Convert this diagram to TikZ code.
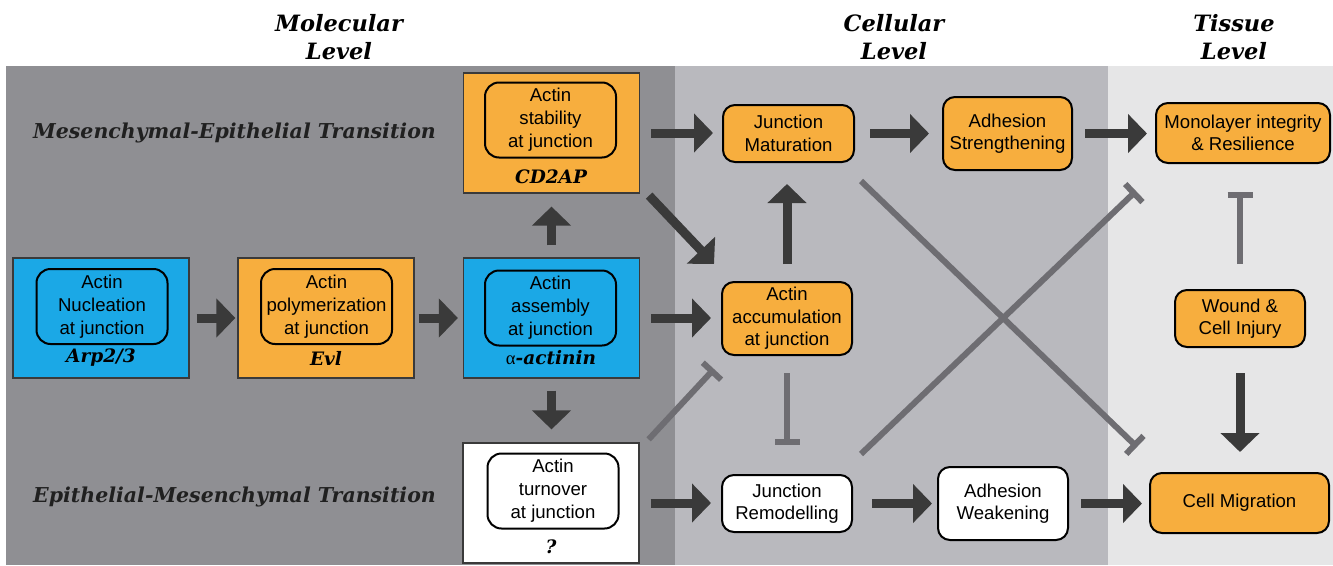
\documentclass[tikz,border=0pt]{standalone}
\usepackage{fontspec}
\setmainfont{Liberation Sans}
\newfontfamily\serifbi{DejaVu Serif}
\newfontfamily\greekf{Liberation Serif}
\usetikzlibrary{arrows.meta,calc}
\definecolor{bluebox}{RGB}{27,168,230}
\definecolor{orangebox}{RGB}{247,174,62}
\definecolor{bgdark}{RGB}{143,143,147}
\definecolor{bgmid}{RGB}{185,185,190}
\definecolor{bglight}{RGB}{230,230,231}
\definecolor{arrowc}{RGB}{58,58,58}
\definecolor{inhc}{RGB}{110,109,114}
\definecolor{rowc}{RGB}{32,32,32}
\tikzset{
  molbox/.style={draw=arrowc, line width=1.2pt, minimum width=176pt, minimum height=120pt, inner sep=0pt},
  inbox/.style={draw=black, line width=2pt, rounded corners=14pt, minimum width=131pt, minimum height=75pt, inner sep=0pt, align=center, font=\fontsize{18.6}{23}\selectfont},
  cellbox/.style={draw=black, line width=2pt, rounded corners=12pt, inner sep=0pt, align=center, font=\fontsize{18.6}{22.5}\selectfont},
  gene/.style={font=\serifbi\bfseries\itshape\fontsize{18.5}{22}\selectfont, inner sep=0pt},
  header/.style={font=\serifbi\bfseries\itshape\fontsize{22.5}{27.5}\selectfont, align=center, inner sep=0pt},
  rowlab/.style={font=\serifbi\bfseries\itshape\fontsize{20.5}{22}\selectfont, text=rowc, anchor=west, inner sep=0pt},
  blk/.style={draw=arrowc, line width=9pt, -{Triangle[width=38pt, length=19pt]}},
  inh/.style={draw=inhc, line width=6pt, -{Bar[width=25pt]}}
}
\begin{document}
\begin{tikzpicture}[x=1pt, y=-1pt]
\useasboundingbox (0,0) rectangle (1333,565);
% backgrounds
\fill[white] (0,0) rectangle (1333,565);
\fill[bgdark] (6,66) rectangle (675,565);
\fill[bgmid] (675,66) rectangle (1108,565);
\fill[bglight] (1108,66) rectangle (1333,565);

% headers
\node[header] (hmol) at (339,37) {Molecular\\Level};
\node[header] (hcel) at (894,37) {Cellular\\Level};
\node[header] (htis) at (1234,37) {Tissue\\Level};

% row labels
\node[rowlab] (rmet) at (33,133) {Mesenchymal-Epithelial Transition};
\node[rowlab] (remt) at (33,497) {Epithelial-Mesenchymal Transition};

% molecular boxes
\node[molbox, fill=bluebox] (arp) at (101,318) {};
\node[inbox] (arpin) at (102,306.5) {Actin\\Nucleation\\at junction};
\node[gene] (arpl) at (101,358) {Arp2/3};

\node[molbox, fill=orangebox] (evl) at (326,318) {};
\node[inbox] (evlin) at (326.5,306.5) {Actin\\polymerization\\at junction};
\node[gene] (evll) at (326,358) {Evl};

\node[molbox, fill=bluebox] (act) at (551.5,318) {};
\node[inbox] (actin) at (550.5,308) {Actin\\assembly\\at junction};
\node[gene] (actl) at (551,358) {{\greekf\mdseries\upshape α}-actinin};

\node[molbox, fill=orangebox] (cd2) at (551.5,133) {};
\node[inbox] (cd2in) at (550.5,120) {Actin\\stability\\at junction};
\node[gene] (cd2l) at (551,177) {CD2AP};

\node[molbox, fill=white] (q) at (551,503) {};
\node[inbox] (qin) at (553,491) {Actin\\turnover\\at junction};
\node[gene] (ql) at (551,547) {?};

% cellular / tissue boxes
\node[cellbox, fill=orangebox, minimum width=131pt, minimum height=57pt] (jm) at (788.5,133.5) {Junction\\Maturation};
\node[cellbox, fill=orangebox, minimum width=129pt, minimum height=73pt] (as) at (1007.5,133.5) {Adhesion\\Strengthening};
\node[cellbox, fill=orangebox, minimum width=174pt, minimum height=60pt] (mono) at (1243,133) {Monolayer integrity\\\& Resilience};
\node[cellbox, fill=orangebox, minimum width=130pt, minimum height=73pt] (acc) at (787,318.5) {Actin\\accumulation\\at junction};
\node[cellbox, fill=white, minimum width=130pt, minimum height=57pt] (jr) at (787,503.5) {Junction\\Remodelling};
\node[cellbox, fill=white, minimum width=130pt, minimum height=73pt] (aw) at (1003,503.5) {Adhesion\\Weakening};
\node[cellbox, fill=orangebox, minimum width=179pt, minimum height=60pt] (cm) at (1239.5,503) {Cell Migration};
\node[cellbox, fill=orangebox, minimum width=130pt, minimum height=57pt] (wound) at (1240,318.5) {Wound \&\\Cell Injury};

% inhibition lines
\draw[inh] ($(q.north east)+(9,-3)$) -- ($(acc.south west)+(-7,13)$);
\draw[inh] ($(acc.south)+(0,17)$) -- ($(jr.north)+(0,-29)$);
\draw[inh] ($(jm.south east)+(6,18)$) -- ($(cm.north west)+(-12,-25)$);
\draw[inh] ($(jr.north east)+(8,-20)$) -- ($(mono.south west)+(-19,27)$);
\draw[inh] ($(wound.north)+(0,-25)$) -- ($(wound.north |- mono.south)+(0,28)$);

% block arrows
\draw[blk, shorten <=7pt, shorten >=2pt] (arp.east) -- (arp.east -| evl.west);
\draw[blk, shorten <=4pt, shorten >=5pt] (evl.east) -- (evl.east -| act.west);
\draw[blk, shorten <=11pt, shorten >=10pt] (act.east) -- (act.east -| acc.west);
\draw[blk, shorten <=11pt, shorten >=9pt] (cd2.east) -- (cd2.east -| jm.west);
\draw[blk, shorten <=15pt, shorten >=13pt] (jm.east) -- (jm.east -| as.west);
\draw[blk, shorten <=12pt, shorten >=8pt] (as.east) -- (as.east -| mono.west);
\draw[blk, shorten <=11pt, shorten >=10pt] (q.east) -- (q.east -| jr.west);
\draw[blk, shorten <=19pt, shorten >=5pt] (jr.east) -- (jr.east -| aw.west);
\draw[blk, shorten <=12pt, shorten >=7pt] (aw.east) -- (aw.east -| cm.west);
\draw[blk, shorten <=12pt, shorten >=13pt] (act.north) -- (act.north |- cd2.south);
\draw[blk, shorten <=12pt, shorten >=13pt] (act.south) -- (act.south |- q.north);
\draw[blk, shorten <=17pt, shorten >=21pt] (acc.north) -- (acc.north |- jm.south);
\draw[blk] ($(cd2.south east)+(9,2)$) -- ($(acc.north west)+(-7,-17)$);
\draw[blk, shorten <=25pt, shorten >=20pt] (wound.south) -- (wound.south |- cm.north);
\end{tikzpicture}
\end{document}
